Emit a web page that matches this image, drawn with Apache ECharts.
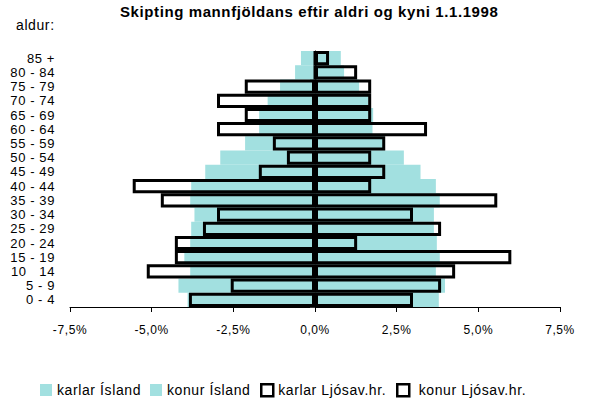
<!DOCTYPE html>
<html>
<head>
<meta charset="utf-8">
<script src="https://cdn.jsdelivr.net/npm/echarts@6/dist/echarts.min.js"></script>
<style>
  html, body { margin: 0; padding: 0; background: #fff; }
  #chart { width: 605px; height: 402px; }
  #chart text { letter-spacing: 0.6px; }
</style>
</head>
<body>
<div id="chart"></div>
<script>
// Age groups, youngest first (category axis runs bottom to top)
const ageGroups = ['0 - 4', '5 - 9', '10   14', '15 - 19', '20 - 24', '25 - 29', '30 - 34', '35 - 39',
  '40 - 44', '45 - 49', '50 - 54', '55 - 59', '60 - 64', '65 - 69', '70 - 74', '75 - 79', '80 - 84', '85 +'];

// Share of total population (%) per age group
const karlarIsland = [3.90, 4.18, 3.82, 4.00, 3.82, 3.79, 3.69, 3.82, 3.79, 3.36, 2.90, 2.14, 1.71, 1.71, 1.45, 1.07, 0.61, 0.43];
const konurIsland  = [3.79, 3.98, 3.70, 3.82, 3.73, 3.64, 3.64, 3.82, 3.70, 3.23, 2.72, 2.14, 1.76, 1.78, 1.63, 1.35, 0.89, 0.79];
const karlarLjos   = [3.86, 2.58, 5.15, 4.29, 4.29, 3.43, 3.00, 4.72, 5.58, 1.72, 0.86, 1.29, 3.00, 2.15, 3.00, 2.15, 0, 0];
const konurLjos    = [3.00, 3.86, 4.29, 6.01, 1.29, 3.86, 3.00, 5.58, 1.72, 2.15, 1.72, 2.15, 3.43, 1.72, 1.72, 1.72, 1.29, 0.43];

const seriesNames = ['karlar Ísland', 'konur Ísland', 'karlar Ljósav.hr.', ' konur Ljósav.hr.'];

const FONT = '"Liberation Sans", Arial, sans-serif';
const CYAN = '#a2e0e0';

const chart = echarts.init(document.getElementById('chart'), null, { renderer: 'svg' });

const fillBar = {
  type: 'bar', barGap: '-100%', barCategoryGap: '0%',
  itemStyle: { color: CYAN }, emphasis: { disabled: true }, animation: false
};
const outlineBar = {
  type: 'bar', barGap: '-100%', barCategoryGap: '0%',
  itemStyle: { color: 'rgba(0,0,0,0)', borderColor: '#000', borderWidth: 3 },
  emphasis: { disabled: true }, animation: false
};

function legendAt(left, name, outline) {
  return {
    left: left, top: 378, itemWidth: 12, itemHeight: 12, itemGap: 0,
    selectedMode: false,
    textStyle: { fontFamily: FONT, fontSize: 14, color: '#000' },
    data: [{
      name: name, icon: 'rect',
      itemStyle: outline
        ? { color: '#fff', borderColor: '#000', borderWidth: 2.5 }
        : { color: CYAN, borderWidth: 0 }
    }]
  };
}

chart.setOption({
  animation: false,
  backgroundColor: '#fff',
  title: [
    { text: 'Skipting mannfjöldans eftir aldri og kyni 1.1.1998', left: 120, top: 4, padding: 0,
      textStyle: { fontFamily: FONT, fontSize: 15, fontWeight: 'bold', color: '#000' } },
    { text: 'aldur:', left: 16, top: 18, padding: 0,
      textStyle: { fontFamily: FONT, fontSize: 14, fontWeight: 'normal', color: '#000' } }
  ],
  legend: [
    legendAt(35, seriesNames[0], false),
    legendAt(145, seriesNames[1], false),
    legendAt(255, seriesNames[2], true),
    legendAt(391, seriesNames[3], true)
  ],
  grid: { left: 70, right: 45, top: 51, bottom: 95, containLabel: false },
  xAxis: {
    type: 'value', min: -7.5, max: 7.5, interval: 2.5,
    axisLine: { show: true, lineStyle: { color: '#000', width: 1 } },
    axisTick: { show: true, length: 5, lineStyle: { color: '#000' } },
    splitLine: { show: false },
    axisLabel: {
      margin: 17, fontFamily: FONT, fontSize: 12, color: '#000',
      formatter: v => v.toFixed(1).replace('.', ',') + '%'
    }
  },
  yAxis: [
    {
      type: 'category', data: ageGroups, position: 'left',
      axisLine: { show: false, onZero: false },
      axisTick: { show: false },
      axisLabel: { margin: 15, fontFamily: FONT, fontSize: 13, lineHeight: 13, color: '#000', interval: 0 }
    },
    {
      type: 'category', data: ageGroups, position: 'left',
      axisLine: { show: true, onZero: true, lineStyle: { color: '#000', width: 1 } },
      axisTick: { show: true, length: 5, lineStyle: { color: '#333' } },
      axisLabel: { show: false }
    }
  ],
  series: [
    Object.assign({ name: seriesNames[0], data: karlarIsland.map(v => -v) }, fillBar),
    Object.assign({ name: seriesNames[1], data: konurIsland.slice() }, fillBar),
    Object.assign({ name: seriesNames[2], data: karlarLjos.map(v => -v) }, outlineBar),
    Object.assign({ name: seriesNames[3], data: konurLjos.slice() }, outlineBar)
  ]
});
</script>
</body>
</html>
